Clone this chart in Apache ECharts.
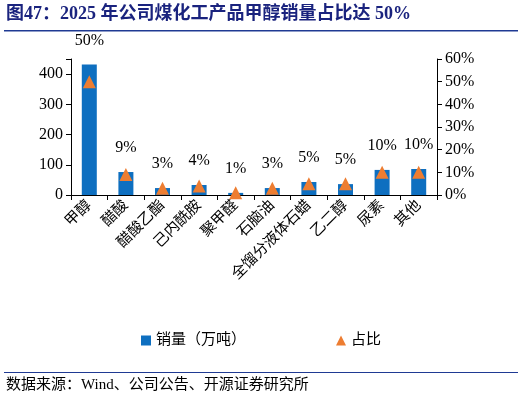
<!DOCTYPE html>
<html>
<head>
<meta charset="UTF-8">
<script src="https://cdn.jsdelivr.net/npm/echarts@6/dist/echarts.min.js"></script>
<style>
  body { margin: 0; background: #fff; }
  #chart { width: 522px; height: 405px; }
</style>
</head>
<body>
<div id="chart"></div>
<script>
  // 数据
  var categories = ['甲醇', '醋酸', '醋酸乙酯', '己内酰胺', '聚甲醛', '石脑油', '全馏分液体石蜡', '乙二醇', '尿素', '其他'];
  var sales = [432, 76, 23, 33, 7, 23, 43, 36, 83, 86];
  var shares = [50, 9, 3, 4, 1, 3, 5, 5, 10, 10];

  var font = '"Liberation Serif", "Noto Sans CJK SC", serif';
  var myChart = echarts.init(document.getElementById('chart'));

  var option = {
    animation: false,
    textStyle: { fontFamily: font },
    graphic: [
      { type: 'text', left: 6, top: 5, style: { text: '图47：2025 年公司煤化工产品甲醇销量占比达 50%', font: 'bold 18px ' + font, fill: '#1a237e' } },
      { type: 'rect', shape: { x: 4, y: 30, width: 514, height: 1.5 }, style: { fill: '#1f3a93' } },
      { type: 'rect', shape: { x: 4, y: 372, width: 514, height: 1 }, style: { fill: '#1f3a93' } },
      { type: 'text', left: 6, top: 378, style: { text: '数据来源：Wind、公司公告、开源证券研究所', font: '15px ' + font, fill: '#000' } }
    ],
    grid: { left: 71, right: 85, top: 59, bottom: 210 },
    legend: {
      bottom: 52,
      itemGap: 90,
      itemWidth: 10, itemHeight: 10,
      textStyle: { fontSize: 15, fontFamily: font, color: '#000' },
      data: [
        { name: '销量（万吨）', icon: 'rect' },
        { name: '占比', icon: 'triangle' }
      ]
    },
    xAxis: {
      type: 'category',
      data: categories,
      axisLine: { lineStyle: { color: '#000' } },
      axisTick: { show: true, length: 5, lineStyle: { color: '#000' } },
      axisLabel: { rotate: 45, fontSize: 15, color: '#000', margin: 8, interval: 0 }
    },
    yAxis: [
      {
        type: 'value', min: 0, max: 450, interval: 100,
        splitLine: { show: false },
        axisLine: { show: true, lineStyle: { color: '#000' } },
        axisTick: { show: true, lineStyle: { color: '#000' } },
        axisLabel: { fontSize: 16, color: '#000', formatter: function (v) { return v > 400 ? '' : v; } }
      },
      {
        type: 'value', min: 0, max: 60, interval: 10,
        splitLine: { show: false },
        axisLine: { show: true, lineStyle: { color: '#000' } },
        axisTick: { show: true, lineStyle: { color: '#000' } },
        axisLabel: { fontSize: 16, color: '#000', formatter: '{value}%' }
      }
    ],
    series: [
      {
        name: '销量（万吨）', type: 'bar', data: sales, barWidth: 15,
        itemStyle: { color: '#0e6fc0' },
        label: {
          show: true, position: 'top', distance: 16, fontSize: 16, color: '#000',
          formatter: function (p) { return shares[p.dataIndex] + '%'; }
        }
      },
      {
        name: '占比', type: 'line', yAxisIndex: 1, data: shares,
        lineStyle: { width: 0 }, symbol: 'triangle', symbolSize: 13,
        itemStyle: { color: '#ed7d31' }
      }
    ]
  };

  myChart.setOption(option);
</script>
</body>
</html>
